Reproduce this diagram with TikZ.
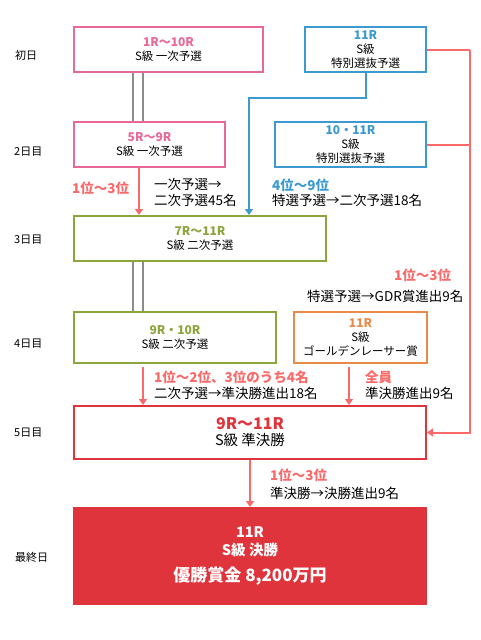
\documentclass[tikz,border=0pt]{standalone}
\usepackage{fontspec}
\setmainfont{Noto Sans CJK JP}
\usetikzlibrary{arrows.meta}
\definecolor{cpink}{HTML}{E8689A}
\definecolor{cblue}{HTML}{3C9AD0}
\definecolor{colive}{HTML}{8CA53C}
\definecolor{corange}{HTML}{EA8A4A}
\definecolor{cred}{HTML}{E0343C}
\definecolor{csalmon}{HTML}{FA6A6A}
\definecolor{cgray}{HTML}{8C8C8C}
\begin{document}
\begin{tikzpicture}[x=1pt,y=-1pt,
  box/.style={draw, line width=2pt, fill=white, inner sep=0pt, align=center, font=\fontsize{11.5}{14}\selectfont},
  day/.style={anchor=west, inner sep=0pt, font=\fontsize{11}{13}\selectfont},
  lab/.style={anchor=west, inner sep=0pt, align=left, font=\fontsize{13.5}{16}\selectfont},
  redlab/.style={lab, text=csalmon, font=\fontsize{13.5}{16}\selectfont\bfseries},
  bluelab/.style={lab, text=cblue, font=\fontsize{13.5}{16}\selectfont\bfseries},
  dbl/.style={draw=cgray, line width=2.7pt},
  arr/.style={line width=2pt, -{Triangle[length=6pt,width=8pt]}},
  ln/.style={line width=2pt}
]
\useasboundingbox (0,0) rectangle (480,640);

% day labels
\node[day] (d1) at (15,55) {初日};
\node[day] (d2) at (14,152) {2日目};
\node[day] (d3) at (14,240) {3日目};
\node[day] (d4) at (14,344) {4日目};
\node[day] (d5) at (14,433) {5日目};
\node[day] (d6) at (15,557) {最終日};

% boxes
\node[box, draw=cpink, minimum width=189pt, minimum height=45pt] (A) at (168.5,49.5)
  {{\fontsize{12}{14}\selectfont\bfseries\color{cpink}1R～10R}\\S級 一次予選};
\node[box, draw=cpink, minimum width=151pt, minimum height=45pt] (B) at (149.5,144.5)
  {{\fontsize{12}{14}\selectfont\bfseries\color{cpink}5R～9R}\\S級 一次予選};
\node[box, draw=cblue, minimum width=121pt, minimum height=45pt] (C1) at (365.5,49.5)
  {{\fontsize{12}{14}\selectfont\bfseries\color{cblue}11R}\\S級\\特別選抜予選};
\node[box, draw=cblue, minimum width=151pt, minimum height=45pt] (C2) at (350.5,144.5)
  {{\fontsize{12}{14}\selectfont\bfseries\color{cblue}10・11R}\\S級\\特別選抜予選};
\node[box, draw=colive, minimum width=252pt, minimum height=45pt] (D) at (200,238.5)
  {{\fontsize{12}{14}\selectfont\bfseries\color{colive}7R～11R}\\S級 二次予選};
\node[box, draw=colive, minimum width=202pt, minimum height=51pt] (F) at (175,337.5)
  {{\fontsize{12}{14}\selectfont\bfseries\color{colive}9R・10R}\\S級 二次予選};
\node[box, draw=corange, minimum width=133pt, minimum height=51pt] (G) at (360.5,337.5)
  {{\fontsize{12}{14}\selectfont\bfseries\color{corange}11R}\\S級\\ゴールデンレーサー賞};
\node[box, draw=cred, minimum width=352pt, minimum height=53pt] (E) at (250,432.5)
  {{\fontsize{16}{18}\selectfont\bfseries\color{cred}9R～11R}\\[2pt]{\fontsize{14.5}{17}\selectfont S級 準決勝}};
\node[box, draw=cred, fill=cred, text=white, minimum width=352pt, minimum height=96pt,
  font=\fontsize{14.5}{18}\selectfont\bfseries] (H) at (250,556)
  {11R\\S級 決勝\\[8pt]{\fontsize{17}{20}\selectfont 優勝賞金 8,200万円}};

% gray double connectors
\draw[dbl] ([xshift=60pt]A.south west) -- ([xshift=60pt]B.north west);
\draw[dbl] ([xshift=70pt]A.south west) -- ([xshift=70pt]B.north west);
\draw[dbl] ([xshift=60pt]D.south west) -- ([xshift=60pt]F.north west);
\draw[dbl] ([xshift=70pt]D.south west) -- ([xshift=70pt]F.north west);

% arrows
\draw[arr, csalmon] ([xshift=66pt]B.south west) -- ([xshift=66pt]D.north west);
\draw[arr, cblue] (C1.south) -- ++(0,25) -| ([xshift=176pt]D.north west);
\draw[ln, csalmon] (C1.east) -- ++(43,0) coordinate (rt);
\draw[ln, csalmon] (C2.east) -- (C2.east -| rt);
\draw[arr, csalmon] (rt) |- (E.east);
\draw[arr, csalmon, shorten <=3pt] ([xshift=70pt]F.south west) -- ([xshift=70pt]E.north west);
\draw[arr, csalmon, shorten <=3pt] ([xshift=56pt]G.south west) -- ([xshift=276pt]E.north west);
\draw[arr, csalmon] (E.south) -- (H.north);

% labels
\node[redlab] (l1) at (72,188) {1位～3位};
\node[lab] (l2) at (154,192) {一次予選→\\二次予選45名};
\node[bluelab] (l3) at (272,185) {4位～9位};
\node[lab] (l4) at (272,200) {特選予選→二次予選18名};
\node[redlab] (l5) at (394,275) {1位～3位};
\node[lab] (l6) at (307,296) {特選予選→GDR賞進出9名};
\node[redlab] (l7) at (154,377) {1位～2位、3位のうち4名};
\node[lab] (l8) at (154,393) {二次予選→準決勝進出18名};
\node[redlab] (l9) at (365,377) {全員};
\node[lab] (l10) at (365,393) {準決勝進出9名};
\node[redlab] (l11) at (270,475) {1位～3位};
\node[lab] (l12) at (270,493) {準決勝→決勝進出9名};
\end{tikzpicture}
\end{document}
